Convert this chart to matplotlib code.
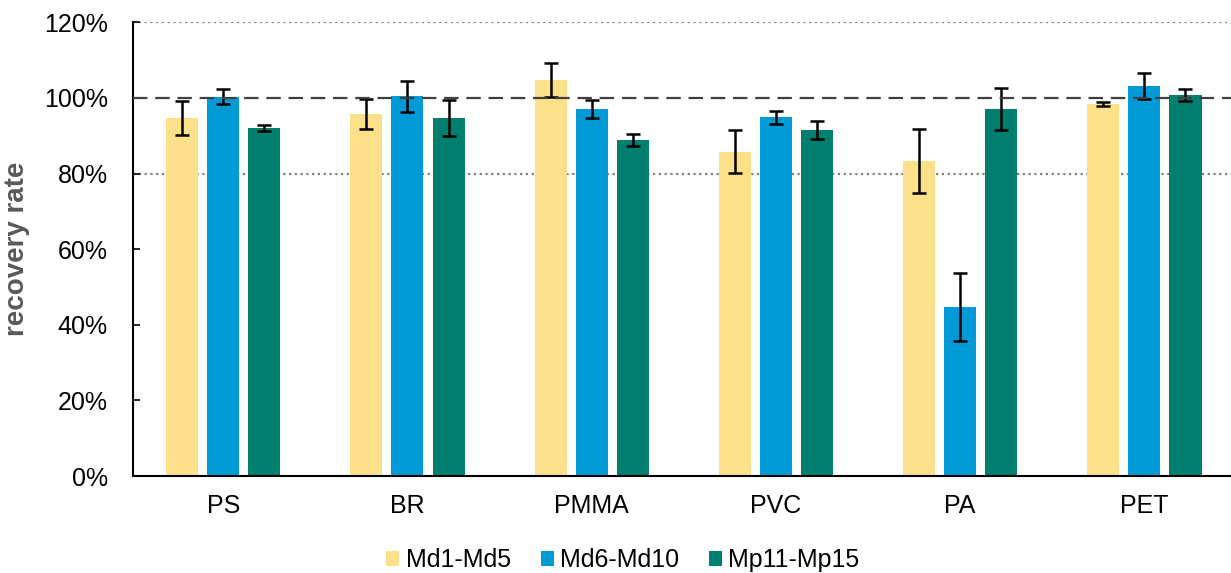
import matplotlib

matplotlib.use("Agg")
import matplotlib.pyplot as plt  # noqa: E402
import numpy as np  # noqa: E402
from matplotlib.ticker import PercentFormatter  # noqa: E402

plt.rcParams.update({
    "font.family": ["Liberation Sans", "DejaVu Sans"],
    "font.size": 18,
})

polymers = ["PS", "BR", "PMMA", "PVC", "PA", "PET"]
series = ["Md1-Md5", "Md6-Md10", "Mp11-Mp15"]
md1_md5 = [94.6, 95.7, 104.7, 85.8, 83.3, 98.4]
md6_md10 = [100.3, 100.4, 97.0, 94.9, 44.7, 103.1]
mp11_mp15 = [92.0, 94.6, 88.8, 91.5, 97.1, 100.7]
md1_md5_err = [4.5, 4.0, 4.5, 5.7, 8.5, 0.6]
md6_md10_err = [2.0, 4.1, 2.4, 1.7, 9.0, 3.4]
mp11_mp15_err = [0.8, 4.7, 1.6, 2.3, 5.6, 1.6]

colors = ["#fce18a", "#009ad7", "#007f6e"]

fig = plt.figure(figsize=(12.31, 5.73), dpi=100)
ax = fig.add_axes([0.108, 0.169, 0.892, 0.7923])

x = np.arange(len(polymers))
w = 0.174
step = 0.223
for k, (vals, errs) in enumerate(zip([md1_md5, md6_md10, mp11_mp15],
                                     [md1_md5_err, md6_md10_err, mp11_mp15_err])):
    ax.bar(x + (k - 1) * step, vals, w, color=colors[k], label=series[k],
           yerr=errs, error_kw=dict(ecolor="black", elinewidth=1.8,
                                    capsize=5, capthick=1.8), zorder=2)

# reference lines
ax.axhline(100, color="#404040", lw=1.6, ls=(0, (6.5, 3.5)), zorder=3)
for yv in (80, 120):
    ax.axhline(yv, color="#808080", lw=1.6, ls=(0, (1, 1.6)), zorder=1)

ax.set_xlim(-0.49, 5.47)
ax.set_ylim(0, 120)
ax.set_yticks(range(0, 121, 20))
ax.yaxis.set_major_formatter(PercentFormatter(decimals=0))
ax.set_xticks(x)
ax.set_xticklabels(polymers)
ax.tick_params(axis="y", direction="in", length=5, width=1.2, pad=18)
ax.tick_params(axis="x", length=0, pad=13)

for side in ("top", "right"):
    ax.spines[side].set_visible(False)
for side in ("left", "bottom"):
    ax.spines[side].set_linewidth(1.5)

ax.set_ylabel("recovery rate", fontsize=20, fontweight="bold", color="#595959",
              labelpad=10)

fig.legend(loc="center", bbox_to_anchor=(0.506, 0.022), ncol=3, frameon=False,
           handlelength=0.52, handleheight=0.52, handletextpad=0.25,
           columnspacing=1.2)

fig.savefig("out.png", dpi=100)
